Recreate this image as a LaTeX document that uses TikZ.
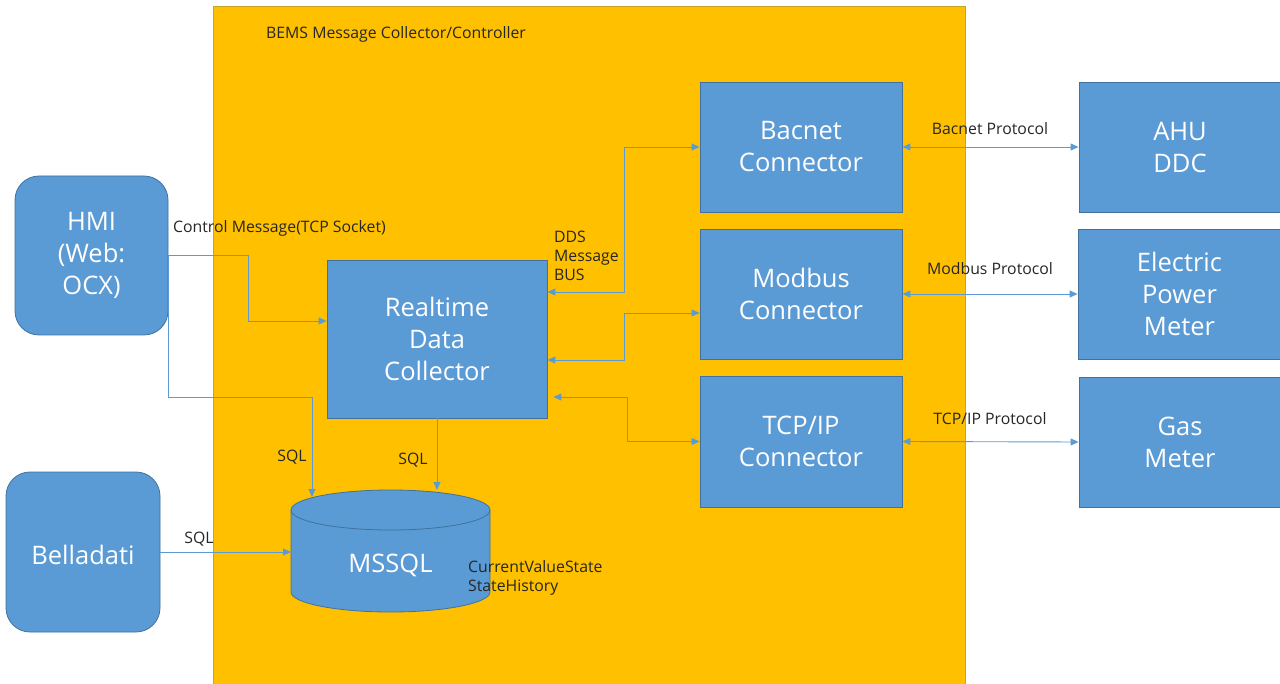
\documentclass[tikz,border=0pt]{standalone}
\usepackage{fontspec}
\setmainfont{Open Sans}
\usetikzlibrary{arrows.meta}
\definecolor{bemsyellow}{HTML}{FFC000}
\definecolor{bemsyellowedge}{HTML}{C9A227}
\definecolor{boxblue}{HTML}{5B9BD5}
\definecolor{boxedge}{HTML}{41719C}
\definecolor{linkblue}{HTML}{5B9BD5}
\tikzset{
  bluebox/.style={draw=boxedge, line width=0.8pt, fill=boxblue, text=white,
    align=center, inner sep=0pt,
    execute at begin node={\rule{0pt}{25pt}},
    font=\fontsize{25.5}{32}\selectfont},
  roundbox/.style={bluebox, rounded corners=24pt},
  lbl/.style={inner sep=0pt, text=black!85, font=\fontsize{15.8}{19}\selectfont},
  link/.style={draw=linkblue, line width=0.9pt},
  onearrow/.style={link, -{Triangle[length=8pt,width=7pt]}},
  twoarrow/.style={link, {Triangle[length=8pt,width=7pt]}-{Triangle[length=8pt,width=7pt]}},
}
\begin{document}
\begin{tikzpicture}[x=1pt,y=-1pt]
\useasboundingbox (0,0) rectangle (1280,684);
% container
\fill[bemsyellow] (213,6) rectangle (965,690);
\draw[bemsyellowedge, line width=0.8pt] (213,690) -- (213,6) -- (965,6) -- (965,690);
\node[lbl, anchor=west] (title) at (266,34) {BEMS Message Collector/Controller};

% left boxes
\node[roundbox, minimum width=153pt, minimum height=159pt] (hmi) at (91.5,255.5) {HMI\\(Web:\\OCX)};
\node[roundbox, minimum width=154pt, minimum height=160pt] (bel) at (83,552) {Belladati};

% collector
\node[bluebox, minimum width=220pt, minimum height=158pt] (rdc) at (437,339) {Realtime\\Data\\Collector};

% connectors
\node[bluebox, minimum width=202pt, minimum height=130pt] (bac) at (801,147) {Bacnet\\Connector};
\node[bluebox, minimum width=202pt, minimum height=130pt] (mod) at (801,294) {Modbus\\Connector};
\node[bluebox, minimum width=202pt, minimum height=131pt] (tcp) at (801,441.5) {TCP/IP\\Connector};

% devices
\node[bluebox, minimum width=202pt, minimum height=130pt] (ahu) at (1180,147) {AHU\\DDC};
\node[bluebox, minimum width=203pt, minimum height=130pt] (epm) at (1179.5,294) {Electric\\Power\\Meter};
\node[bluebox, minimum width=202pt, minimum height=130pt] (gas) at (1180,442) {Gas\\Meter};

% database cylinder
\fill[boxblue] (291,510) -- (291,592) arc[start angle=180, end angle=360, x radius=99.5pt, y radius=20pt]
  -- (490,510) arc[start angle=0, end angle=180, x radius=99.5pt, y radius=20pt] -- cycle;
\draw[boxedge, line width=0.8pt] (291,510) -- (291,592) arc[start angle=180, end angle=360, x radius=99.5pt, y radius=20pt] -- (490,510);
\draw[boxedge, line width=0.8pt] (390.5,510) ellipse[x radius=99.5pt, y radius=20pt];
\node[inner sep=0pt, text=white, font=\fontsize{25.5}{32}\selectfont] (db) at (390.5,565) {MSSQL};
\coordinate (dbA) at (312,497);
\coordinate (dbB) at (437,490);
\coordinate (dbL) at (291,552);

% links
\draw[onearrow] (hmi.east) -- ++(80,0) |- ([yshift=18pt]rdc.west);
\draw[onearrow] (hmi.east) -- ++(0,141.5) -| (dbA);
\draw[onearrow] (rdc.south) -- (dbB);
\draw[onearrow] (bel.east) -- (dbL);

\draw[twoarrow] ([yshift=47pt]rdc.east) -- ++(77,0) |- (bac.west);
\draw[twoarrow] ([yshift=-21pt]rdc.east) -- ++(77,0) |- ([yshift=-19pt]mod.west);
\draw[twoarrow] ([xshift=6pt,yshift=-58pt]rdc.east) -- ++(74,0) |- (tcp.west);

\draw[twoarrow] (bac.east) -- (ahu.west);
\draw[twoarrow] (mod.east) -- (epm.west);
\draw[twoarrow] (tcp.east) -- (gas.west);

% labels
\node[lbl, anchor=west] (ctl) at (173,228) {Control Message(TCP Socket)};
\node[lbl, anchor=west, align=left] (dds) at (554,256) {DDS\\Message\\BUS};
\node[lbl] (sql1) at (292,457) {SQL};
\node[lbl] (sql2) at (413,460) {SQL};
\node[lbl] (sql3) at (199,539) {SQL};
\node[lbl, anchor=west, align=left] (tables) at (468,578) {CurrentValueState\\StateHistory};
\node[lbl] (p1) at (990,129) {Bacnet Protocol};
\node[lbl] (p2) at (990,269) {Modbus Protocol};
\node[lbl] (p3) at (990,419) {TCP/IP Protocol};
\end{tikzpicture}
\end{document}
